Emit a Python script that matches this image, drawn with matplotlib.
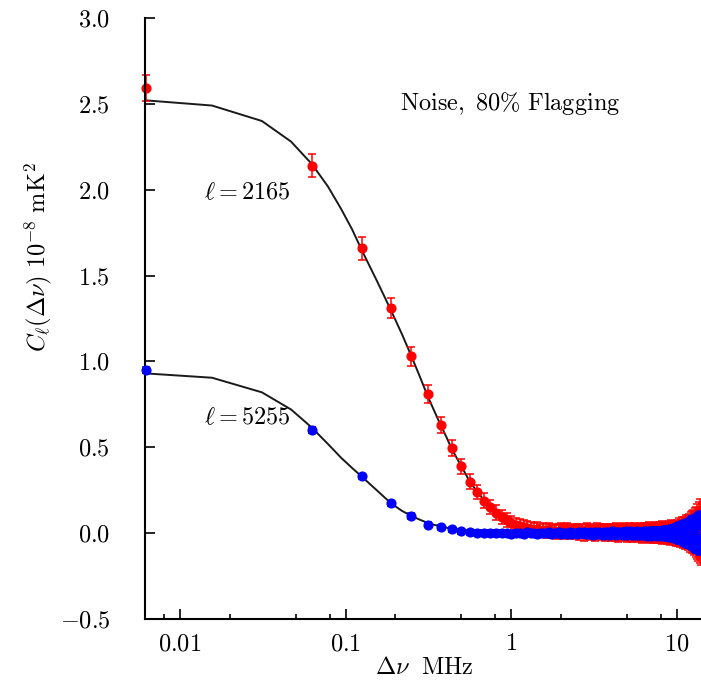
import numpy as np
import matplotlib
matplotlib.use('Agg')
import matplotlib.pyplot as plt

plt.rcParams['mathtext.fontset'] = 'cm'
plt.rcParams['font.family'] = 'serif'
plt.rcParams['font.serif'] = ['cmr10', 'DejaVu Serif']

# Daten: C_l(dnu) fuer l=2165 (rot) und l=5255 (blau), Kanalbreite 62.5 kHz
cl_2165 = [2.59,
    2.14, 1.66, 1.31, 1.03, 0.81, 0.63, 0.495, 0.39, 0.30, 0.24, 0.19, 0.15, 0.12, 0.095, 0.075, 0.06, 0.05, 0.04, 0.035, 0.03,
    0.025, 0.02, 0.022, 0.015, 0.018, 0.012, 0.02, 0.01, 0.015, 0.008, 0.014, 0.02, 0.006, 0.012, 0.018, 0.004, 0.01, 0.016, 0.008, 0.012,
    0.002, 0.015, 0.01, -0.004, 0.012, 0.02, 0.005, 0.0, 0.014, 0.008, -0.006, 0.01, 0.018, 0.003, -0.002, 0.012, 0.006, 0.016, -0.005, 0.009,
    0.013, 0.001, 0.007, -0.008, 0.015, 0.004, 0.011, -0.003, 0.02, 0.006, -0.01, 0.009, 0.014, 0.0, 0.005, -0.006, 0.017, 0.002, 0.008, -0.012,
    0.012, 0.004, -0.004, 0.016, 0.007, -0.009, 0.01, 0.019, -0.002, 0.005, 0.013, -0.011, 0.003, 0.008, -0.006, 0.015, 0.001, -0.013, 0.011, 0.006,
    -0.003, 0.018, 0.004, -0.01, 0.009, 0.014, -0.007, 0.002, 0.02, -0.012, 0.007, 0.012, -0.002, 0.005, -0.015, 0.016, 0.003, -0.008, 0.01, 0.022,
    -0.005, 0.008, -0.013, 0.014, 0.001, 0.019, -0.01, 0.006, -0.003, 0.024, -0.016, 0.009, 0.004, -0.007, 0.017, -0.012, 0.011, 0.002, -0.018, 0.015,
    0.005, -0.009, 0.021, -0.004, 0.012, -0.02, 0.008, 0.026, -0.011, 0.003, 0.017, -0.015, 0.01, -0.006, 0.023, -0.019, 0.007, 0.014, -0.022, 0.028,
    -0.008, 0.018, -0.025, 0.012, 0.034, -0.016, 0.005, -0.03, 0.025, 0.009, -0.02, 0.038, -0.012, 0.016, -0.035, 0.02, 0.042, -0.026, 0.006, -0.04,
    0.03, -0.018, 0.048, -0.032, 0.014, 0.052, -0.045, 0.022, -0.01, 0.058, -0.05, 0.028, -0.036, 0.065, -0.022, 0.04, -0.06, 0.07, -0.042, 0.018,
    0.075, -0.055, 0.035, -0.07, 0.085, -0.03, 0.05, -0.08, 0.095, -0.062, 0.025, -0.09, 0.11, -0.048, 0.06, -0.1, 0.12, -0.075, 0.04, -0.11,
    0.135, -0.085, 0.07, -0.12]

err_2165 = [0.075,
    0.067, 0.067, 0.058, 0.055, 0.05, 0.048, 0.045, 0.044, 0.043, 0.042, 0.042, 0.041, 0.041, 0.04, 0.04, 0.04, 0.04, 0.04, 0.04, 0.04,
    0.04, 0.04, 0.04, 0.04, 0.04, 0.04, 0.04, 0.04, 0.04, 0.04, 0.04, 0.04, 0.04, 0.04, 0.04, 0.04, 0.04, 0.04, 0.04, 0.04,
    0.04, 0.04, 0.04, 0.04, 0.04, 0.04, 0.04, 0.04, 0.04, 0.04, 0.04, 0.04, 0.04, 0.04, 0.04, 0.04, 0.04, 0.04, 0.04, 0.04,
    0.04, 0.04, 0.04, 0.04, 0.04, 0.04, 0.04, 0.04, 0.04, 0.04, 0.04, 0.04, 0.04, 0.04, 0.04, 0.04, 0.04, 0.04, 0.04, 0.04,
    0.041, 0.041, 0.041, 0.041, 0.041, 0.041, 0.041, 0.041, 0.041, 0.041, 0.042, 0.042, 0.042, 0.042, 0.042, 0.042, 0.042, 0.042, 0.042, 0.042,
    0.043, 0.043, 0.043, 0.043, 0.043, 0.043, 0.043, 0.043, 0.043, 0.043, 0.044, 0.044, 0.044, 0.044, 0.044, 0.044, 0.044, 0.044, 0.044, 0.044,
    0.045, 0.045, 0.045, 0.045, 0.045, 0.045, 0.045, 0.045, 0.045, 0.045, 0.046, 0.046, 0.046, 0.046, 0.046, 0.046, 0.046, 0.046, 0.046, 0.046,
    0.047, 0.047, 0.047, 0.047, 0.047, 0.048, 0.048, 0.048, 0.048, 0.048, 0.049, 0.049, 0.049, 0.049, 0.049, 0.05, 0.05, 0.05, 0.05, 0.05,
    0.052, 0.052, 0.052, 0.052, 0.052, 0.052, 0.052, 0.052, 0.052, 0.052, 0.054, 0.054, 0.054, 0.054, 0.054, 0.054, 0.054, 0.054, 0.054, 0.054,
    0.056, 0.056, 0.056, 0.056, 0.056, 0.056, 0.056, 0.056, 0.056, 0.056, 0.058, 0.058, 0.058, 0.058, 0.058, 0.058, 0.058, 0.058, 0.058, 0.058,
    0.06, 0.06, 0.06, 0.06, 0.06, 0.06, 0.06, 0.06, 0.06, 0.06, 0.062, 0.062, 0.062, 0.062, 0.062, 0.062, 0.062, 0.062, 0.062, 0.062,
    0.065, 0.065, 0.065, 0.065]

cl_5255 = [0.95,
    0.60, 0.33, 0.175, 0.10, 0.05, 0.035, 0.022, 0.012, 0.006, 0.003,
    0.002, -0.001, 0.003, -0.002, 0.001, -0.004, 0.002, 0.0, -0.003, 0.004,
    -0.001, 0.002, -0.005, 0.003, 0.0, -0.002, 0.005, -0.004, 0.001, -0.001,
    0.004, -0.006, 0.002, 0.0, -0.003, 0.006, -0.005, 0.001, 0.003, -0.007, 0.005, -0.002, 0.0, 0.007, -0.006, 0.002, -0.004, 0.008, -0.001, -0.008,
    0.004, 0.001, -0.006, 0.009, -0.003, 0.002, -0.009, 0.006, 0.0, -0.005, 0.008, -0.008, 0.003, -0.002, 0.01, -0.007, 0.001, 0.005, -0.01, 0.004,
    -0.003, 0.009, -0.006, 0.002, 0.007, -0.011, 0.004, -0.001, 0.011, -0.008, 0.003, -0.005, 0.01, -0.002, 0.006, -0.012, 0.001, 0.008, -0.009, 0.005,
    -0.004, 0.012, -0.01, 0.002, 0.007, -0.013, 0.009, -0.003, 0.004, -0.008, 0.013, -0.006, 0.0, 0.01, -0.014, 0.006, -0.002, 0.011, -0.011, 0.003,
    0.008, -0.015, 0.012, -0.004, 0.005, -0.01, 0.014, -0.007, 0.001, 0.011, -0.016, 0.007, -0.003, 0.015, -0.012, 0.004, 0.009, -0.017, 0.013, -0.006,
    0.002, 0.016, -0.014, 0.008, -0.019, 0.012, 0.004, -0.01, 0.018, -0.016, 0.006, -0.003, 0.02, -0.021, 0.01, 0.014, -0.013, 0.003, -0.024, 0.022,
    -0.008, 0.012, -0.018, 0.026, -0.027, 0.007, 0.019, -0.015, 0.028, -0.03, 0.011, -0.022, 0.031, -0.006, 0.017, -0.034, 0.035, -0.02, 0.009, -0.038,
    0.038, -0.012, 0.024, -0.042, 0.042, -0.028, 0.014, -0.046, 0.045, -0.018, 0.03, -0.05, 0.048, -0.035, 0.02, -0.055, 0.052, -0.024, 0.036, -0.058,
    0.055, -0.04, 0.026, -0.062, 0.06, -0.03, 0.045, -0.066, 0.064, -0.048, 0.032, -0.07, 0.068, -0.036, 0.05, -0.074, 0.072, -0.054, 0.04, -0.078,
    0.076, -0.042, 0.058, -0.082, 0.08, -0.06, 0.046, -0.086, 0.084, -0.05, 0.064, -0.09, 0.088, -0.068]

err_5255 = [0.02,
    0.016, 0.015, 0.015, 0.015, 0.015, 0.015, 0.015, 0.015, 0.015, 0.015, 0.015, 0.015, 0.015, 0.015, 0.015, 0.015, 0.015, 0.015, 0.015, 0.015,
    0.015, 0.015, 0.015, 0.015, 0.015, 0.015, 0.015, 0.015, 0.015, 0.015, 0.015, 0.015, 0.015, 0.015, 0.015, 0.015, 0.015, 0.015, 0.015, 0.015,
    0.016, 0.016, 0.016, 0.016, 0.016, 0.016, 0.016, 0.016, 0.016, 0.016, 0.016, 0.016, 0.016, 0.016, 0.016, 0.016, 0.016, 0.016, 0.016, 0.016,
    0.016, 0.016, 0.016, 0.016, 0.016, 0.016, 0.016, 0.016, 0.016, 0.016, 0.017, 0.017, 0.017, 0.017, 0.017, 0.017, 0.017, 0.017, 0.017, 0.017,
    0.017, 0.017, 0.017, 0.017, 0.017, 0.017, 0.017, 0.017, 0.017, 0.017, 0.018, 0.018, 0.018, 0.018, 0.018, 0.018, 0.018, 0.018, 0.018, 0.018,
    0.018, 0.018, 0.018, 0.018, 0.018, 0.018, 0.018, 0.018, 0.018, 0.018, 0.019, 0.019, 0.019, 0.019, 0.019, 0.019, 0.019, 0.019, 0.019, 0.019,
    0.02, 0.02, 0.02, 0.02, 0.02, 0.02, 0.02, 0.02, 0.02, 0.02, 0.021, 0.021, 0.021, 0.021, 0.021, 0.021, 0.021, 0.021, 0.021, 0.021,
    0.022, 0.022, 0.022, 0.022, 0.022, 0.023, 0.023, 0.023, 0.023, 0.023, 0.024, 0.024, 0.024, 0.024, 0.024, 0.025, 0.025, 0.025, 0.025, 0.025,
    0.026, 0.026, 0.026, 0.026, 0.026, 0.027, 0.027, 0.027, 0.027, 0.027, 0.028, 0.028, 0.028, 0.028, 0.028, 0.029, 0.029, 0.029, 0.029, 0.029,
    0.03, 0.03, 0.03, 0.03, 0.03, 0.031, 0.031, 0.031, 0.031, 0.031, 0.032, 0.032, 0.032, 0.032, 0.032, 0.033, 0.033, 0.033, 0.033, 0.033,
    0.034, 0.034, 0.034, 0.034, 0.034, 0.035, 0.035, 0.035, 0.035, 0.035, 0.036, 0.036, 0.036, 0.036, 0.036, 0.037, 0.037, 0.037, 0.037, 0.037,
    0.039, 0.039, 0.039, 0.039]

# Modellkurven
model_dnu = [0.00625, 0.015625, 0.03125, 0.046875, 0.0625, 0.078125, 0.09375, 0.109375, 0.125, 0.15625,
             0.1875, 0.21875, 0.25, 0.28125, 0.3125, 0.34375, 0.375, 0.40625, 0.4375, 0.5,
             0.5625, 0.625, 0.6875, 0.75, 0.875, 1.0, 1.25, 1.5, 2.0]
model_2165 = [2.52, 2.49, 2.40, 2.28, 2.15, 2.02, 1.89, 1.77, 1.65, 1.46,
              1.30, 1.16, 1.03, 0.91, 0.80, 0.71, 0.63, 0.56, 0.49, 0.39,
              0.30, 0.24, 0.19, 0.15, 0.09, 0.05, 0.02, 0.01, 0.0]
model_5255 = [0.93, 0.905, 0.82, 0.72, 0.615, 0.52, 0.44, 0.38, 0.33, 0.245,
              0.175, 0.13, 0.10, 0.078, 0.06, 0.048, 0.04, 0.032, 0.025, 0.014,
              0.008, 0.004, 0.002, 0.0, 0.0, 0.0, 0.0, 0.0, 0.0]

# erster Punkt (dnu=0) am linken Rand, danach Vielfache der Kanalbreite
dnu = np.concatenate([[0.00625], 0.0625 * np.arange(1, len(cl_2165))])

xticks = [0.01, 0.1, 1, 10]
xtick_labels = ['0.01', '0.1', '1', '10']
xminor = [0.008, 0.02, 0.05, 0.08, 0.2, 0.5, 0.8, 2, 5, 8]
yticks = [-0.5, 0.0, 0.5, 1.0, 1.5, 2.0, 2.5, 3.0]

fs = 17.5
fig = plt.figure(figsize=(7.01, 6.83), dpi=100)
ax = fig.add_axes([0.2068, 0.0937, 0.7932, 0.88])

ax.plot(model_dnu, model_2165, color='#1a1a1a', lw=1.4, zorder=1)
ax.plot(model_dnu, model_5255, color='#1a1a1a', lw=1.4, zorder=1)
ax.errorbar(dnu, cl_2165, yerr=err_2165, fmt='o', color='#ff0000', ms=6.3,
            elinewidth=1.1, capsize=3, capthick=1.1, zorder=2, clip_on=False)
ax.errorbar(dnu, cl_5255, yerr=err_5255, fmt='o', color='#0000ff', ms=6.3,
            elinewidth=1.1, capsize=3, capthick=1.1, zorder=3, clip_on=False)

ax.set_xscale('log')
ax.set_xlim(0.00615, 14.0)
ax.set_ylim(-0.5, 3.0)

ax.set_xticks(xticks)
ax.set_xticklabels([r'$%s$' % s for s in xtick_labels], fontsize=fs)
ax.set_xticks(xminor, minor=True)
ax.set_xticklabels([], minor=True)
ax.set_yticks(yticks)
ax.set_yticklabels([r'$%.1f$' % v for v in yticks], fontsize=fs)

ax.spines['top'].set_visible(False)
ax.spines['right'].set_visible(False)
ax.spines['left'].set_linewidth(1.5)
ax.spines['bottom'].set_linewidth(1.5)
ax.tick_params(which='major', direction='in', length=7.5, width=1.2, top=False, right=False)
ax.tick_params(axis='y', which='major', pad=25)
ax.tick_params(axis='x', which='major', pad=10)
ax.tick_params(which='minor', direction='in', length=3.5, width=1.2, top=False, right=False)

fig.text(0.055, 0.624, r'$C_{\ell}(\Delta\nu)\ 10^{-8}\ \mathrm{mK}^2$', rotation=90,
         ha='center', va='center', fontsize=fs)
fig.text(0.606, 0.022, r'$\Delta\nu\ \ \mathrm{MHz}$', ha='center', va='center', fontsize=fs)

ax.text(0.986, 2.50, r'$\mathrm{Noise,\ 80\%\ Flagging}$', ha='center', va='center', fontsize=fs)
ax.text(0.0254, 1.98, r'$\ell = 2165$', ha='center', va='center', fontsize=fs)
ax.text(0.0254, 0.67, r'$\ell = 5255$', ha='center', va='center', fontsize=fs)

fig.savefig('out.png', dpi=100)
